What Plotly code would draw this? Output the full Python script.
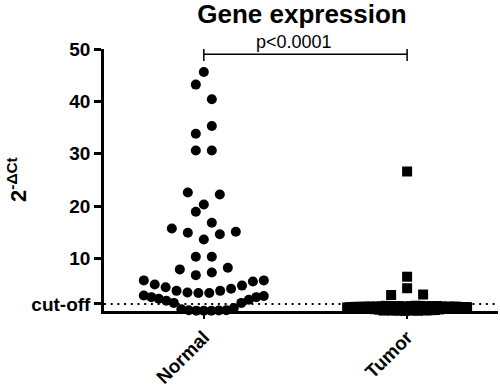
import plotly.graph_objects as go

# ---------------- data (listed in spreadsheet order) ----------------
categories = ["Normal", "Tumor"]
normal_values = [0.0, 0.0, 0.02, 0.05, 0.1, 0.1, 0.3, 0.5,
                 1.5, 1.5, 1.9, 2.1, 2.3, 2.6, 2.6, 2.8, 2.9,
                 3.4, 3.4, 3.5, 3.8, 3.8, 4.2, 4.5, 4.8, 5.0, 5.6, 5.8, 5.8,
                 6.8, 7.3, 7.9, 8.2,
                 10.3, 10.3,
                 13.6, 14.6, 14.9, 15.1, 15.7,
                 18.9, 16.8,
                 20.3, 22.2, 22.6,
                 30.6, 30.6, 33.8, 35.3,
                 43.2, 40.4,
                 45.6]
tumor_values = [0.45,
                0.05, 0.0, 0.9, 0.85, 0.1, 0.02, 0.95, 0.88, 0.0, 0.08,
                0.92, 0.8, 0.12, 0.04, 0.86, 0.9, 0.06, 0.15, 0.82, 0.94,
                0.1, 0.03, 0.88, 0.84, 0.14, 0.2, 0.9, 0.78, 0.25, 0.3,
                0.8, 0.75, 0.7, 0.78, 0.72, 0.76, 0.8, 0.7, 0.74, 0.78,
                0.72, 0.7, 0.76, 0.74, 0.78, 0.7, 0.72, 0.75, 0.7, 0.68,
                0.72, 0.66, 0.7, 0.64, 0.68, 0.62,
                4.3, 3.1, 3.0,
                6.5,
                26.6]
y_tick_values = [1.3, 10, 20, 30, 40, 50]
y_tick_labels = ["cut-off", "10", "20", "30", "40", "50"]
cutoff_value = 1.3
p_label = "p<0.0001"
title_text = "Gene expression"
y_title = "2<sup>-ΔCt</sup>"

# ---------------- layout geometry ----------------
W, H = 500, 385
M = dict(l=104, r=2, t=49, b=74)
X_RANGE = [-0.491, 1.447]
Y_RANGE = [-0.05, 50]
PX_X = (W - M["l"] - M["r"]) / (X_RANGE[1] - X_RANGE[0])
PX_Y = (H - M["t"] - M["b"]) / (Y_RANGE[1] - Y_RANGE[0])


def swarm_offsets(values, row_px=15.5, step_px=16.0, max_w=120.0):
    """GraphPad-like scatter-dot layout: values are grouped into rows
    (by sorted value), then each row is laid out centre-out in data order."""
    order = sorted(range(len(values)), key=lambda i: (values[i], i))
    offs = [0.0] * len(values)
    rows, cur = [], []
    for i in order:
        if cur and (values[i] - values[cur[0]]) * PX_Y > row_px:
            rows.append(cur)
            cur = []
        cur.append(i)
    if cur:
        rows.append(cur)
    for row in rows:
        row = sorted(row)
        n = len(row)
        s = step_px if n < 2 else min(step_px, max_w / (n - 1))
        slots = []
        if n % 2:
            slots.append(0)
            k = 1
            while len(slots) < n:
                slots.append(k)
                if len(slots) < n:
                    slots.append(-k)
                k += 1
        else:
            k = 0.5
            while len(slots) < n:
                slots.append(-k)
                slots.append(k)
                k += 1
        for i, sl in zip(row, slots):
            offs[i] = sl * s / PX_X
    return offs


FONT = "Liberation Sans, Arial, sans-serif"

fig = go.Figure()

# cut-off dotted line
fig.add_trace(go.Scatter(
    x=[X_RANGE[0], X_RANGE[1]], y=[cutoff_value, cutoff_value],
    mode="lines", line=dict(color="black", width=2, dash="2px,4.7px"),
    hoverinfo="skip", showlegend=False))

groups = [(normal_values, "circle"), (tumor_values, "square")]
for ci, (vals, sym) in enumerate(groups):
    offs = swarm_offsets(vals)
    fig.add_trace(go.Scatter(
        x=[ci + o for o in offs], y=vals, mode="markers",
        marker=dict(symbol=sym, size=10, color="black", line=dict(width=0)),
        cliponaxis=False, showlegend=False, name=categories[ci]))

# significance bracket
fig.add_trace(go.Scatter(
    x=[0, 0, None, 0, 1, None, 1, 1],
    y=[47.7, 50.0, None, 49.0, 49.0, None, 47.7, 50.0],
    mode="lines", line=dict(color="black", width=1.5),
    cliponaxis=False, hoverinfo="skip", showlegend=False))

fig.add_annotation(x=0.442, y=49.0, xref="x", yref="y", text=p_label,
                   showarrow=False, yanchor="bottom", xanchor="center",
                   font=dict(family=FONT, size=18, color="black"))

fig.add_annotation(x=(17 - M["l"]) / (W - M["l"] - M["r"]), y=0.5,
                   xref="paper", yref="paper", text=y_title, textangle=-90,
                   showarrow=False, xanchor="center", yanchor="middle",
                   font=dict(family=FONT, size=22, color="black", weight="bold"))

fig.update_layout(
    width=W, height=H, margin=dict(M, autoexpand=False),
    paper_bgcolor="white", plot_bgcolor="white",
    title=dict(text=title_text, x=302 / W, xanchor="center",
               y=1 - 14 / H, yanchor="middle",
               font=dict(family=FONT, size=26, color="black", weight="bold")),
    xaxis=dict(range=X_RANGE, tickvals=[0, 1], ticktext=categories,
               tickangle=-45, showline=True, linecolor="black", linewidth=2.5,
               ticks="outside", ticklen=5, tickwidth=2, tickcolor="black",
               showgrid=False, zeroline=False, automargin=False,
               tickfont=dict(family=FONT, size=19, color="black", weight="bold")),
    yaxis=dict(range=Y_RANGE, tickvals=y_tick_values, ticktext=y_tick_labels,
               showline=True, linecolor="black", linewidth=2.5,
               ticks="outside", ticklen=7, tickwidth=2.5, tickcolor="black",
               showgrid=False, zeroline=False, automargin=False,
               tickfont=dict(family=FONT, size=19, color="black", weight="bold")),
)

# remove the browser's default 8px page margin so the figure sits at (0, 0)
fig.write_html("out.html", config={"displayModeBar": False},
               post_script="document.body.style.margin='0';document.body.style.overflow='hidden';")
